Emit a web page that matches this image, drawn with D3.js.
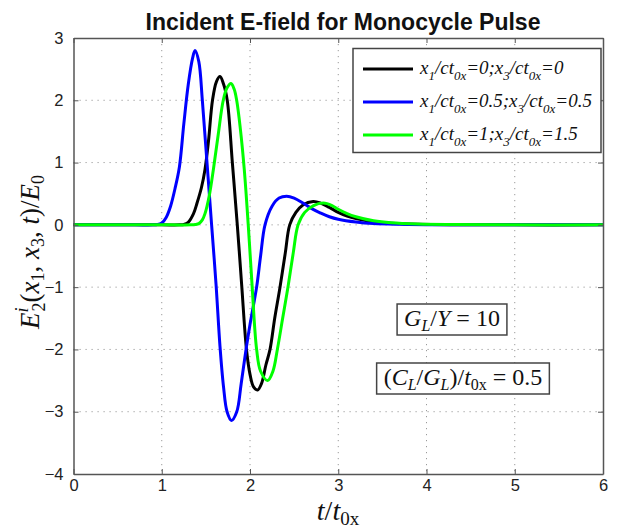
<!DOCTYPE html>
<html>
<head>
<meta charset="utf-8">
<script src="https://cdn.jsdelivr.net/npm/d3@7"></script>
<style>
  html, body { margin: 0; padding: 0; background: #fff; }
  svg { display: block; }
  .tick text { font-family: "Liberation Sans", Arial, sans-serif; font-size: 16.5px; fill: #222; }
</style>
</head>
<body>
<svg id="chart" width="622" height="529"></svg>
<script>
// Normalised time t/t0x and field E2/E0 for three observation points
const seriesBlack = [
  [0, 0], [1.0, 0], [1.2, 0], [1.25, 0.005], [1.3, 0.04], [1.36, 0.18], [1.4, 0.35], [1.45, 0.6], [1.49, 0.89],
  [1.53, 1.35], [1.575, 2.0], [1.62, 2.3], [1.66, 2.38], [1.7, 2.26], [1.742, 2.0],
  [1.8, 1.0], [1.856, 0], [1.905, -0.95], [1.96, -2.0], [2.0, -2.4], [2.04, -2.6],
  [2.087, -2.65], [2.13, -2.55], [2.18, -2.25], [2.227, -2.0], [2.28, -1.5], [2.34, -1.0],
  [2.4, -0.45], [2.45, 0], [2.52, 0.2], [2.6, 0.32], [2.716, 0.375], [2.8, 0.35],
  [2.9, 0.28], [3.0, 0.2], [3.1, 0.14], [3.2, 0.1], [3.4, 0.05], [3.6, 0.025],
  [3.9, 0.01], [4.3, 0.003], [5.0, 0], [6, 0]
];
const seriesBlue = [
  [0, 0], [0.7, 0], [0.9, 0], [0.95, 0.005], [1.0, 0.03], [1.05, 0.12], [1.1, 0.3], [1.15, 0.58], [1.2, 0.93],
  [1.25, 1.62], [1.3, 2.25], [1.35, 2.68], [1.377, 2.8], [1.42, 2.62], [1.46, 2.0],
  [1.51, 1.05], [1.565, 0], [1.615, -0.95], [1.66, -1.95], [1.7, -2.6], [1.74, -3.0],
  [1.79, -3.14], [1.85, -3.0], [1.9, -2.55], [1.955, -2.0], [2.0, -1.6], [2.075, -1.0],
  [2.12, -0.5], [2.17, 0], [2.25, 0.3], [2.33, 0.43], [2.415, 0.46], [2.5, 0.43],
  [2.6, 0.35], [2.7, 0.26], [2.8, 0.19], [2.9, 0.13], [3.0, 0.09], [3.2, 0.045],
  [3.4, 0.02], [3.7, 0.008], [4.0, 0.003], [5.0, 0], [6, 0]
];
const seriesGreen = [
  [0, 0], [1.1, 0], [1.33, 0], [1.38, 0.005], [1.42, 0.02], [1.46, 0.08], [1.49, 0.18], [1.54, 0.48], [1.585, 0.89],
  [1.64, 1.45], [1.697, 2.0], [1.74, 2.2], [1.785, 2.27], [1.82, 2.18], [1.849, 2.0],
  [1.89, 1.55], [1.935, 0.89], [1.98, 0], [2.02, -0.89], [2.075, -2.0], [2.12, -2.35],
  [2.2, -2.5], [2.26, -2.35], [2.31, -2.0], [2.37, -1.5], [2.43, -1.0], [2.49, -0.45],
  [2.545, 0], [2.62, 0.2], [2.72, 0.31], [2.83, 0.35], [2.93, 0.31], [3.0, 0.25],
  [3.1, 0.18], [3.2, 0.13], [3.4, 0.065], [3.6, 0.032], [3.9, 0.012], [4.3, 0.004],
  [5.0, 0], [6, 0]
];

const xTicks = [0, 1, 2, 3, 4, 5, 6];
const yTicks = [-4, -3, -2, -1, 0, 1, 2, 3];
const seriesColors = ["#000000", "#0000ff", "#00ff00"];
// legend entries: [x1/ct0x value, x3/ct0x value]
const legendValues = [["0", "0"], ["0.5", "0.5"], ["1", "1.5"]];
const annotationGL_Y = "10";
const annotationCL_GL = "0.5";

const svg = d3.select("#chart");
const margin = { left: 73.5, right: 19, top: 38, bottom: 55 };
const W = 622, H = 529;
const x = d3.scaleLinear().domain([0, 6]).range([margin.left, W - margin.right]);
const y = d3.scaleLinear().domain([-4, 3]).range([H - margin.bottom, margin.top]);

const serif = "'Liberation Serif', 'Times New Roman', serif";
const sans = "'Liberation Sans', Arial, sans-serif";

// dotted grid
const grid = svg.append("g").attr("stroke", "#9a9a9a").attr("stroke-width", 1)
  .attr("stroke-dasharray", "1.2,4.8");
grid.selectAll("line.gx").data(xTicks.slice(1, -1)).join("line")
  .attr("x1", d => x(d)).attr("x2", d => x(d))
  .attr("y1", y(3)).attr("y2", y(-4));
grid.selectAll("line.gy").data(yTicks.slice(1, -1)).join("line")
  .attr("x1", x(0)).attr("x2", x(6))
  .attr("y1", d => y(d)).attr("y2", d => y(d));

// curves
const line = d3.line().x(d => x(d[0])).y(d => y(d[1])).curve(d3.curveCatmullRom.alpha(0.5));
const plot = svg.append("g");
[seriesBlack, seriesBlue, seriesGreen].forEach((s, i) => {
  plot.append("path").datum(s)
    .attr("fill", "none").attr("stroke", seriesColors[i])
    .attr("stroke-width", 3).attr("stroke-linejoin", "round")
    .attr("d", line);
});

// axes with inward ticks, mirrored on top and right
const axisColor = "#555";
const xAxis = svg.append("g").attr("transform", `translate(0,${y(-4)})`)
  .call(d3.axisBottom(x).tickValues(xTicks).tickSizeInner(-5).tickSizeOuter(0).tickPadding(9)
    .tickFormat(d3.format("d")));
const yAxis = svg.append("g").attr("transform", `translate(${x(0)},0)`)
  .call(d3.axisLeft(y).tickValues(yTicks).tickSizeInner(-5).tickSizeOuter(0).tickPadding(10)
    .tickFormat(d => d < 0 ? "\u2212" + Math.abs(d) : d));
const xTop = svg.append("g").attr("transform", `translate(0,${y(3)})`)
  .call(d3.axisTop(x).tickValues(xTicks).tickSizeInner(-5).tickSizeOuter(0).tickFormat(""));
const yRight = svg.append("g").attr("transform", `translate(${x(6)},0)`)
  .call(d3.axisRight(y).tickValues(yTicks).tickSizeInner(-5).tickSizeOuter(0).tickFormat(""));
[xAxis, yAxis, xTop, yRight].forEach(a => {
  a.selectAll("path.domain").attr("stroke", axisColor).attr("stroke-width", 1.5);
  a.selectAll(".tick line").attr("stroke", axisColor);
});
xAxis.selectAll(".tick text").attr("dy", "0.5em");

// title
svg.append("text").attr("x", 343).attr("y", 30).attr("text-anchor", "middle")
  .attr("font-family", sans).attr("font-weight", "bold").attr("font-size", 23)
  .attr("fill", "#111").text("Incident E-field for Monocycle Pulse");

// x-axis label: t / t_0x
const xl = svg.append("text").attr("x", 338).attr("y", 520).attr("text-anchor", "middle")
  .attr("font-family", serif).attr("font-size", 28).attr("fill", "#111");
xl.append("tspan").attr("font-style", "italic").text("t");
xl.append("tspan").text("/");
xl.append("tspan").attr("font-style", "italic").text("t");
xl.append("tspan").attr("font-size", 19).attr("dy", 5).text("0x");

// y-axis label: E_2^i(x_1, x_3, t)/E_0
const yl = svg.append("text")
  .attr("transform", `translate(39,252) rotate(-90)`)
  .attr("text-anchor", "middle")
  .attr("font-family", serif).attr("font-size", 27).attr("fill", "#111");
yl.append("tspan").attr("font-style", "italic").text("E");
yl.append("tspan").attr("font-style", "italic").attr("font-size", 18).attr("dy", -11).text("i");
yl.append("tspan").attr("font-size", 18).attr("dx", -4).attr("dy", 17).text("2");
yl.append("tspan").attr("dy", -6).text("(");
yl.append("tspan").attr("font-style", "italic").text("x");
yl.append("tspan").attr("font-size", 18).attr("dy", 5).text("1");
yl.append("tspan").attr("dy", -5).text(", ");
yl.append("tspan").attr("font-style", "italic").text("x");
yl.append("tspan").attr("font-size", 18).attr("dy", 5).text("3");
yl.append("tspan").attr("dy", -5).text(", ");
yl.append("tspan").attr("font-style", "italic").text("t");
yl.append("tspan").text(")/");
yl.append("tspan").attr("font-style", "italic").text("E");
yl.append("tspan").attr("font-size", 18).attr("dy", 5).text("0");

// legend
const lg = svg.append("g");
lg.append("rect").attr("x", 353).attr("y", 48.5).attr("width", 248).attr("height", 104)
  .attr("fill", "#fff").attr("stroke", "#444").attr("stroke-width", 1.5);
legendValues.forEach((v, i) => {
  const cy = 69 + i * 33;
  lg.append("line").attr("x1", 363).attr("x2", 413).attr("y1", cy).attr("y2", cy)
    .attr("stroke", seriesColors[i]).attr("stroke-width", 3);
  const t = lg.append("text").attr("x", 420).attr("y", cy + 5)
    .attr("font-family", serif).attr("font-style", "italic").attr("font-size", 19).attr("fill", "#111");
  const sub = (s) => t.append("tspan").attr("font-size", 13).attr("dy", 6).text(s);
  const back = (s) => t.append("tspan").attr("dy", -6).text(s);
  t.append("tspan").text("x");
  sub("1");
  back("/ct");
  sub("0x");
  back("=" + v[0] + ";x");
  sub("3");
  back("/ct");
  sub("0x");
  back("=" + v[1]);
});

// parameter annotations
function boxedLabel(cx, by, build) {
  const g = svg.append("g");
  const t = g.append("text").attr("x", cx).attr("y", by).attr("text-anchor", "middle")
    .attr("font-family", serif).attr("font-size", 24).attr("fill", "#111");
  build(t);
  const b = t.node().getBBox();
  g.insert("rect", "text").attr("x", b.x - 7).attr("y", b.y - 1)
    .attr("width", b.width + 14).attr("height", b.height + 2)
    .attr("fill", "#fff").attr("stroke", "#444").attr("stroke-width", 1.5);
}
boxedLabel(452, 326, t => {
  t.append("tspan").attr("font-style", "italic").text("G");
  t.append("tspan").attr("font-style", "italic").attr("font-size", 16).attr("dy", 5).text("L");
  t.append("tspan").attr("dy", -5).text("/");
  t.append("tspan").attr("font-style", "italic").text("Y");
  t.append("tspan").text(" = " + annotationGL_Y);
});
boxedLabel(463, 385, t => {
  t.append("tspan").text("(");
  t.append("tspan").attr("font-style", "italic").text("C");
  t.append("tspan").attr("font-style", "italic").attr("font-size", 16).attr("dy", 5).text("L");
  t.append("tspan").attr("dy", -5).text("/");
  t.append("tspan").attr("font-style", "italic").text("G");
  t.append("tspan").attr("font-style", "italic").attr("font-size", 16).attr("dy", 5).text("L");
  t.append("tspan").attr("dy", -5).text(")/");
  t.append("tspan").attr("font-style", "italic").text("t");
  t.append("tspan").attr("font-size", 16).attr("dy", 5).text("0x");
  t.append("tspan").attr("dy", -5).text(" = " + annotationCL_GL);
});
</script>
</body>
</html>
